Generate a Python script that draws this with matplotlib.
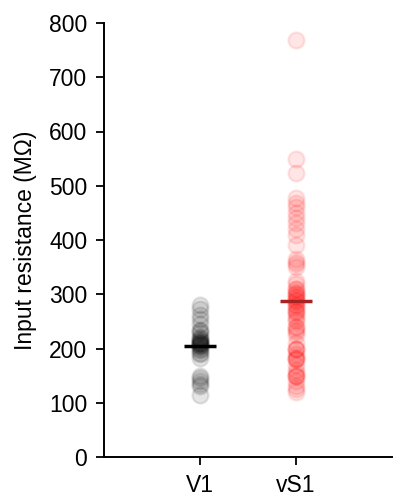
import numpy as np
import matplotlib
matplotlib.use("Agg")
import matplotlib.pyplot as plt

plt.rcParams["font.family"] = ["Liberation Sans", "DejaVu Sans"]

# input resistance per cell (MOhm)
groups = ["V1", "vS1"]
v1_rin = [280, 272, 262, 255, 245, 235, 232, 228, 222, 215, 212, 208, 205, 203,
          200, 198, 192, 190, 182, 150, 145, 140, 135, 130, 115,
          210, 215, 220, 208, 212, 206]
vs1_rin = [768, 550, 523, 478, 468, 460, 450, 440, 432, 420, 410, 390, 365, 360,
           355, 350, 325, 318, 310, 305, 300, 295, 290, 285, 280, 270, 265, 255,
           240, 235, 225, 210, 200, 185, 180, 160, 150, 130, 120,
           310, 300, 295, 290, 280, 275, 270, 260, 250, 240, 230, 200, 190, 180,
           170, 155, 150, 140, 125, 150, 200, 180]
yticks = [0, 100, 200, 300, 400, 500, 600, 700, 800]

fig = plt.figure(figsize=(3.93, 4.96), dpi=100)
ax = fig.add_axes([104 / 393, 39 / 496, 288 / 393, 434 / 496])

colors = ["black", "red"]
mean_colors = ["black", "#a82424"]
for i, (vals, c, mc) in enumerate(zip([v1_rin, vs1_rin], colors, mean_colors)):
    x = np.full(len(vals), i + 1)
    ax.plot(x, vals, "o", color=c, alpha=0.1, markersize=11.5,
            markeredgewidth=1.6, linestyle="none")
    m = np.mean(vals)
    ax.plot([i + 1 - 0.17, i + 1 + 0.17], [m, m], color=mc, lw=2.5,
            solid_capstyle="butt")

ax.set_xlim(0, 3)
ax.set_ylim(0, 800)
ax.set_xticks([1, 2])
ax.set_xticklabels(groups)
ax.set_yticks(yticks)
ax.set_ylabel("Input resistance (M\u03a9)", fontsize=16.5, labelpad=9)
ax.tick_params(labelsize=16.5, width=1.3, length=6, pad=6)
for s in ["top", "right"]:
    ax.spines[s].set_visible(False)
for s in ["left", "bottom"]:
    ax.spines[s].set_linewidth(1.4)

fig.savefig("out.png", dpi=100)
